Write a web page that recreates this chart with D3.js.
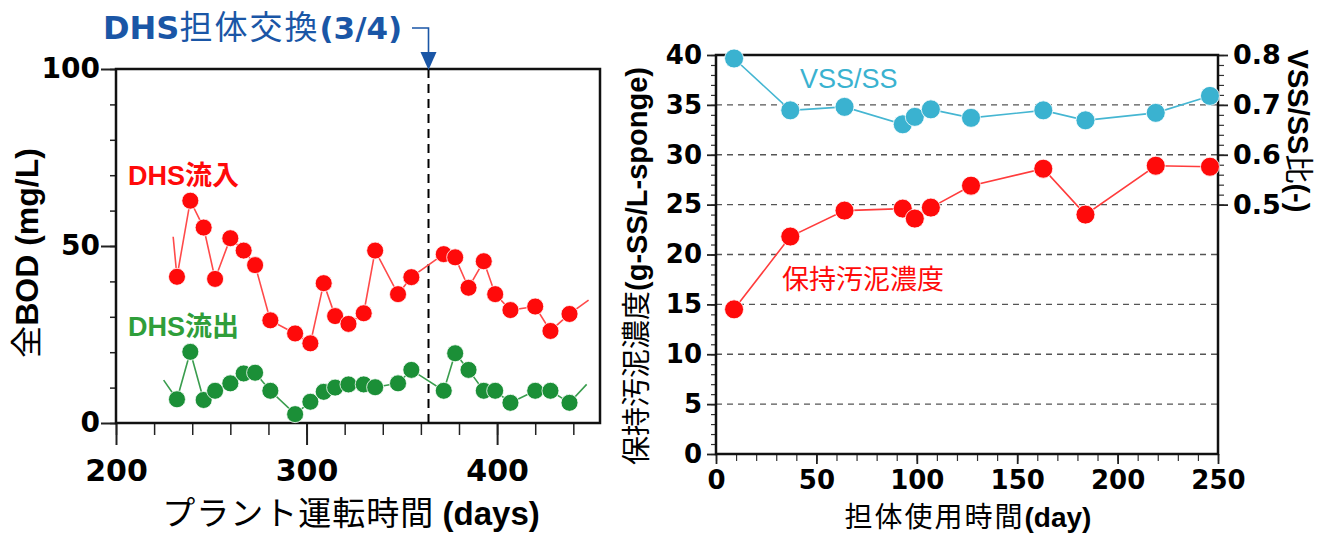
<!DOCTYPE html>
<html><head><meta charset="utf-8">
<script src="https://cdn.jsdelivr.net/npm/d3@7"></script>
<style>
html,body{margin:0;padding:0;background:#fff;}
svg{display:block;}
.num{font-family:"DejaVu Sans",sans-serif;font-weight:bold;}
.jp{font-family:"Noto Sans CJK JP",sans-serif;}
</style>
</head><body>
<svg id="c" width="1325" height="536"></svg>
<script>
// ---- plant operation (left panel) ----
const opDays   = [232, 239, 246, 252, 260, 267, 273, 281, 294, 302, 309, 315, 322, 330, 336, 348, 355, 372, 378, 385, 393, 399, 407, 420, 428, 438];
const bodIn    = [41.3, 62.8, 55.2, 40.7, 52.2, 48.7, 44.6, 29.0, 25.3, 22.5, 39.5, 30.2, 28.0, 31.0, 48.7, 36.4, 41.2, 47.7, 46.8, 38.2, 45.7, 36.4, 31.9, 32.9, 26.0, 30.8];
const bodOut   = [6.7, 20.1, 6.5, 9.1, 11.2, 14.0, 14.2, 9.1, 2.5, 6.0, 8.8, 10.0, 10.9, 10.9, 10.1, 11.2, 15.0, 9.1, 19.7, 15.0, 9.1, 9.1, 5.7, 9.1, 9.1, 5.7];
// trend-line end vertices (day, value) that carry no marker
const bodInLineEnds  = [[230, 52.6], [448, 34.7]];
const bodOutLineEnds = [[225, 12.1], [447, 10.9]];
const exchangeDay = 364;
const leftXTicks = [200, 300, 400];
const leftYTicks = [0, 50, 100];

// ---- carrier usage (right panel) ----
const useDays  = [9, 37, 64, 93, 99, 107, 127, 163, 184, 219, 246];
const sludge   = [14.5, 21.8, 24.4, 24.6, 23.6, 24.7, 26.9, 28.6, 24.0, 28.9, 28.8];
const vssRatio = [0.793, 0.689, 0.696, 0.661, 0.676, 0.691, 0.674, 0.689, 0.669, 0.684, 0.718];
const rightXTicks = [0, 50, 100, 150, 200, 250];
const rightYTicks = [0, 5, 10, 15, 20, 25, 30, 35, 40];
const ratioTicks  = [0.5, 0.6, 0.7, 0.8];

const RED = "#ff0a0a", GREEN = "#1b8f37", CYAN = "#3ab2d0", BLUE = "#1a56a6";
const LAT = "'Liberation Sans',sans-serif";

const svg = d3.select("#c");

// ================= left panel =================
const lx = d3.scaleLinear().domain([200, 454]).range([116, 600]);
const ly = d3.scaleLinear().domain([0, 100]).range([423, 69]);

const L = svg.append("g");

// minor ticks
L.append("g").attr("transform", `translate(0,${ly(0)})`)
  .call(d3.axisBottom(lx).tickValues(d3.range(200, 455, 20)).tickSize(12).tickFormat(""))
  .call(g => g.select(".domain").remove())
  .call(g => g.selectAll("line").attr("stroke", "#222").attr("stroke-width", 1.5));
L.append("g").attr("transform", `translate(${lx(200)},0)`)
  .call(d3.axisLeft(ly).tickValues(d3.range(0, 101, 10)).tickSize(6).tickFormat(""))
  .call(g => g.select(".domain").remove())
  .call(g => g.selectAll("line").attr("stroke", "#222").attr("stroke-width", 1.5));
// major ticks + labels
L.append("g").attr("transform", `translate(0,${ly(0)})`)
  .call(d3.axisBottom(lx).tickValues(leftXTicks).tickSize(22).tickPadding(10).tickFormat(d3.format("d")))
  .call(g => g.select(".domain").remove())
  .call(g => g.selectAll("line").attr("stroke", "#222").attr("stroke-width", 2))
  .call(g => g.selectAll("text").attr("class", "num").attr("font-size", 30).attr("fill", "#000").attr("dy", "0.85em"));
L.append("g").attr("transform", `translate(${lx(200)},0)`)
  .call(d3.axisLeft(ly).tickValues(leftYTicks).tickSize(15).tickPadding(1).tickFormat(d3.format("d")))
  .call(g => g.select(".domain").remove())
  .call(g => g.selectAll("line").attr("stroke", "#222").attr("stroke-width", 2))
  .call(g => g.selectAll("text").attr("class", "num").attr("font-size", 28).attr("fill", "#000"));

// frame
L.append("rect").attr("x", lx(200)).attr("y", ly(100))
  .attr("width", lx(454) - lx(200)).attr("height", ly(0) - ly(100))
  .attr("fill", "none").attr("stroke", "#111").attr("stroke-width", 2.5);

// exchange marker
L.append("line").attr("x1", lx(exchangeDay)).attr("x2", lx(exchangeDay))
  .attr("y1", ly(100)).attr("y2", ly(0))
  .attr("stroke", "#000").attr("stroke-width", 2).attr("stroke-dasharray", "9,6");

const lineL = d3.line().x(d => lx(d[0])).y(d => ly(d[1]));
const inPts  = opDays.map((d, i) => [d, bodIn[i]]);
const outPts = opDays.map((d, i) => [d, bodOut[i]]);

L.append("path").datum([bodInLineEnds[0], ...inPts, bodInLineEnds[1]])
  .attr("d", lineL).attr("fill", "none").attr("stroke", "#ff4a4a").attr("stroke-width", 1.6);
L.append("path").datum([bodOutLineEnds[0], ...outPts, bodOutLineEnds[1]])
  .attr("d", lineL).attr("fill", "none").attr("stroke", "#3a9d4e").attr("stroke-width", 1.6);

L.append("g").selectAll("circle").data(inPts).join("circle")
  .attr("cx", d => lx(d[0])).attr("cy", d => ly(d[1])).attr("r", 8.5)
  .attr("fill", RED).attr("stroke", "#fff").attr("stroke-width", 0.8);
L.append("g").selectAll("circle").data(outPts).join("circle")
  .attr("cx", d => lx(d[0])).attr("cy", d => ly(d[1])).attr("r", 8.5)
  .attr("fill", GREEN).attr("stroke", "#fff").attr("stroke-width", 0.8);

// series labels
L.append("text").attr("x", 128).attr("y", 185).attr("fill", RED)
  .attr("font-size", 27).attr("font-weight", "bold")
  .attr("font-family", "'Liberation Sans','Noto Sans CJK JP',sans-serif").text("DHS流入");
L.append("text").attr("x", 128).attr("y", 336).attr("fill", "#2f9e3a")
  .attr("font-size", 27).attr("font-weight", "bold")
  .attr("font-family", "'Liberation Sans','Noto Sans CJK JP',sans-serif").text("DHS流出");

// axis titles
const lyt = L.append("text").attr("transform", "translate(38,253) rotate(-90)")
  .attr("text-anchor", "middle").attr("font-size", 32).attr("fill", "#000");
lyt.append("tspan").attr("class", "jp").text("全");
lyt.append("tspan").attr("font-family", LAT).attr("font-weight", "bold").text("BOD (mg/L)");

const lxt = L.append("text").attr("x", 351).attr("y", 525)
  .attr("text-anchor", "middle").attr("font-size", 33).attr("fill", "#000");
lxt.append("tspan").attr("class", "jp").attr("letter-spacing", 1).text("プラント運転時間 ");
lxt.append("tspan").attr("font-family", LAT).attr("font-weight", "bold").text("(days)");

// exchange annotation
const tt = L.append("text").attr("x", 103).attr("y", 39).attr("fill", BLUE);
tt.append("tspan").attr("class", "num").attr("font-size", 32).text("DHS");
tt.append("tspan").attr("class", "jp").attr("font-size", 33).attr("letter-spacing", 2).text("担体交換");
tt.append("tspan").attr("class", "num").attr("font-size", 31).text("(3/4)");
const ax = lx(exchangeDay);
L.append("path").attr("d", `M412,28 H${ax} V54`).attr("fill", "none").attr("stroke", BLUE).attr("stroke-width", 1.6);
L.append("path").attr("d", `M${ax - 8},52 L${ax + 8},52 L${ax},70 Z`).attr("fill", BLUE);

// ================= right panel =================
const rx = d3.scaleLinear().domain([0, 250]).range([716, 1218]);
const ry = d3.scaleLinear().domain([0, 40]).range([454, 55]);
const ry2 = d3.scaleLinear().domain([0, 0.8]).range([454, 55]);

const R = svg.append("g");

// dashed grid
R.append("g").selectAll("line").data(rightYTicks.filter(v => v > 0 && v < 40)).join("line")
  .attr("x1", rx(0)).attr("x2", rx(250)).attr("y1", d => ry(d)).attr("y2", d => ry(d))
  .attr("stroke", "#555").attr("stroke-width", 1.3).attr("stroke-dasharray", "6,5");

// minor ticks
R.append("g").attr("transform", `translate(0,${ry(0)})`)
  .call(d3.axisBottom(rx).tickValues(d3.range(0, 251, 10)).tickSize(7).tickFormat(""))
  .call(g => g.select(".domain").remove())
  .call(g => g.selectAll("line").attr("stroke", "#333").attr("stroke-width", 1.2));
R.append("g").attr("transform", `translate(${rx(0)},0)`)
  .call(d3.axisLeft(ry).tickValues(d3.range(0, 41, 1)).tickSize(5).tickFormat(""))
  .call(g => g.select(".domain").remove())
  .call(g => g.selectAll("line").attr("stroke", "#333").attr("stroke-width", 1.2));
R.append("g").attr("transform", `translate(${rx(250)},0)`)
  .call(d3.axisRight(ry2).tickValues(d3.range(25, 41, 1).map(v => v / 50)).tickSize(6).tickFormat(""))
  .call(g => g.select(".domain").remove())
  .call(g => g.selectAll("line").attr("stroke", "#333").attr("stroke-width", 1.2));

// major ticks + labels
R.append("g").attr("transform", `translate(0,${ry(0)})`)
  .call(d3.axisBottom(rx).tickValues(rightXTicks).tickSize(10).tickPadding(4).tickFormat(d3.format("d")))
  .call(g => g.select(".domain").remove())
  .call(g => g.selectAll("line").attr("stroke", "#222").attr("stroke-width", 1.8))
  .call(g => g.selectAll("text").attr("class", "num").attr("font-size", 26).attr("fill", "#000").attr("dy", "0.8em"));
R.append("g").attr("transform", `translate(${rx(0)},0)`)
  .call(d3.axisLeft(ry).tickValues(rightYTicks).tickSize(9).tickPadding(5).tickFormat(d3.format("d")))
  .call(g => g.select(".domain").remove())
  .call(g => g.selectAll("line").attr("stroke", "#222").attr("stroke-width", 1.8))
  .call(g => g.selectAll("text").attr("class", "num").attr("font-size", 26).attr("fill", "#000"));
R.append("g").attr("transform", `translate(${rx(250)},0)`)
  .call(d3.axisRight(ry2).tickValues(ratioTicks).tickSize(10).tickPadding(5).tickFormat(d3.format(".1f")))
  .call(g => g.select(".domain").remove())
  .call(g => g.selectAll("line").attr("stroke", "#222").attr("stroke-width", 1.8))
  .call(g => g.selectAll("text").attr("class", "num").attr("font-size", 27).attr("fill", "#000"));

// frame
R.append("rect").attr("x", rx(0)).attr("y", ry(40))
  .attr("width", rx(250) - rx(0)).attr("height", ry(0) - ry(40))
  .attr("fill", "none").attr("stroke", "#111").attr("stroke-width", 2.5);

const sPts = useDays.map((d, i) => [d, sludge[i]]);
const vPts = useDays.map((d, i) => [d, vssRatio[i]]);

R.append("path").datum(vPts)
  .attr("d", d3.line().x(d => rx(d[0])).y(d => ry2(d[1])))
  .attr("fill", "none").attr("stroke", "#45b6d2").attr("stroke-width", 1.6);
R.append("path").datum(sPts)
  .attr("d", d3.line().x(d => rx(d[0])).y(d => ry(d[1])))
  .attr("fill", "none").attr("stroke", "#ff3c3c").attr("stroke-width", 1.6);

R.append("g").selectAll("circle").data(vPts).join("circle")
  .attr("cx", d => rx(d[0])).attr("cy", d => ry2(d[1])).attr("r", 9.5)
  .attr("fill", CYAN).attr("stroke", "#fff").attr("stroke-width", 0.8);
R.append("g").selectAll("circle").data(sPts).join("circle")
  .attr("cx", d => rx(d[0])).attr("cy", d => ry(d[1])).attr("r", 9.5)
  .attr("fill", RED).attr("stroke", "#fff").attr("stroke-width", 0.8);

// series labels
R.append("text").attr("x", 800).attr("y", 88).attr("fill", CYAN)
  .attr("font-size", 27).attr("font-family", LAT).text("VSS/SS");
R.append("text").attr("x", 782).attr("y", 289).attr("fill", RED)
  .attr("font-size", 27).attr("class", "jp").text("保持汚泥濃度");

// axis titles
const rxt = R.append("text").attr("x", 968).attr("y", 527)
  .attr("text-anchor", "middle").attr("font-size", 28).attr("fill", "#000");
rxt.append("tspan").attr("class", "jp").attr("letter-spacing", 2).text("担体使用時間");
rxt.append("tspan").attr("font-family", LAT).attr("font-weight", "bold").text("(day)");

const ryt = R.append("text").attr("transform", "translate(647,266) rotate(-90)")
  .attr("text-anchor", "middle").attr("font-size", 29).attr("fill", "#000");
ryt.append("tspan").attr("class", "jp").text("保持汚泥濃度");
ryt.append("tspan").attr("font-family", LAT).attr("font-weight", "bold").text("(g-SS/L-sponge)");

const r2t = R.append("text").attr("transform", "translate(1288,131) rotate(90)")
  .attr("text-anchor", "middle").attr("font-size", 29).attr("fill", "#000");
r2t.append("tspan").attr("font-family", LAT).attr("font-weight", "bold").text("VSS/SS");
r2t.append("tspan").attr("class", "jp").text("比");
r2t.append("tspan").attr("font-family", LAT).attr("font-weight", "bold").text("(-)");
</script>
</body></html>
